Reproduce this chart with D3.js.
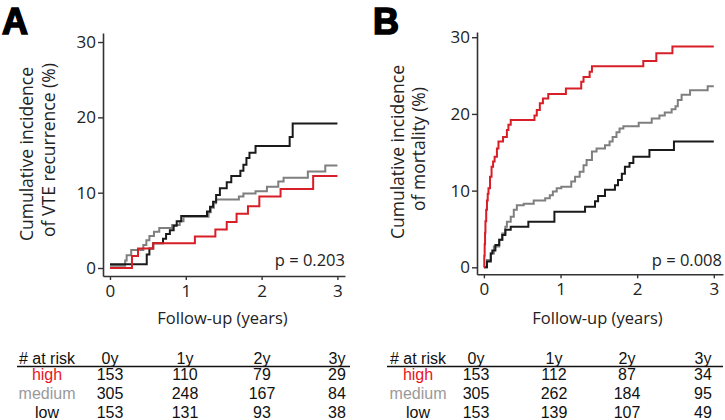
<!DOCTYPE html>
<html>
<head>
<meta charset="utf-8">
<script src="https://cdn.jsdelivr.net/npm/d3@7"></script>
<style>
  html, body { margin: 0; padding: 0; background: #fff; }
  svg { display: block; }
</style>
</head>
<body>
<svg id="chart" width="725" height="420"></svg>
<script>
// ---------------- DATA ----------------
const groups = ["high", "medium", "low"];
const xTicks = [0, 1, 2, 3];
const yTicks = [0, 10, 20, 30];
const followEnd = 3.0;

// Panel A: VTE recurrence (%)
const vteHighT = [0, 0.29, 0.37, 0.57, 1.12, 1.39, 1.54, 1.67, 1.82, 1.97, 2.25, 2.68];
const vteHighV = [0, 1.6, 2.6, 3.3, 4.2, 5.1, 6.1, 7.2, 8.2, 9.5, 10.5, 12.2];
const vteMedT = [0, 0.20, 0.22, 0.28, 0.44, 0.48, 0.52, 0.58, 0.65, 0.82, 0.92, 0.97, 1.30, 1.33, 1.37, 1.40, 1.70, 1.76, 1.92, 2.07, 2.22, 2.29, 2.61, 2.84];
const vteMedV = [0.3, 1.0, 1.7, 2.4, 3.05, 3.7, 4.25, 4.8, 5.3, 5.7, 6.2, 6.8, 7.4, 8.0, 8.6, 9.1, 9.5, 9.9, 10.2, 10.8, 11.5, 12.0, 12.8, 13.6];
const vteLowT = [0, 0.485, 0.52, 0.57, 0.70, 0.74, 0.79, 0.84, 0.88, 0.94, 1.28, 1.32, 1.36, 1.40, 1.45, 1.54, 1.60, 1.72, 1.76, 1.80, 1.84, 1.92, 2.37, 2.41];
const vteLowV = [0.5, 1.8, 2.6, 3.3, 3.9, 4.5, 5.0, 5.6, 6.2, 6.9, 7.5, 8.15, 8.8, 9.7, 10.6, 11.4, 12.2, 12.9, 13.7, 14.6, 15.3, 16.2, 17.4, 19.2];

// Panel B: mortality (%)
const mortHighT = [0, 0.005, 0.01, 0.015, 0.02, 0.03, 0.04, 0.05, 0.06, 0.08, 0.10, 0.12, 0.14, 0.17, 0.19, 0.25, 0.30, 0.32, 0.35, 0.66, 0.69, 0.73, 0.77, 0.84, 1.07, 1.27, 1.30, 1.38, 1.41, 2.08, 2.25, 2.46];
const mortHighV = [0, 1.5, 3, 4.5, 6, 7.5, 8.7, 9.6, 10.3, 11.8, 13.1, 13.8, 14.4, 15.5, 16.4, 17.0, 17.9, 18.6, 19.2, 19.8, 20.5, 21.4, 22.0, 22.6, 23.3, 24.2, 24.8, 25.5, 26.2, 26.9, 27.9, 28.8];
const mortMedT = [0, 0.04, 0.09, 0.13, 0.20, 0.24, 0.28, 0.30, 0.35, 0.39, 0.43, 0.52, 0.65, 0.80, 0.86, 0.90, 0.95, 1.01, 1.14, 1.19, 1.25, 1.30, 1.34, 1.41, 1.47, 1.58, 1.64, 1.68, 1.73, 1.77, 1.82, 2.02, 2.19, 2.29, 2.36, 2.45, 2.50, 2.53, 2.58, 2.69, 2.92];
const mortMedV = [0, 0.95, 1.8, 2.7, 3.6, 4.4, 5.3, 5.95, 6.6, 7.5, 8.1, 8.3, 8.7, 9.0, 9.4, 9.9, 10.3, 10.5, 11.2, 11.8, 12.45, 13.3, 14.0, 15.1, 15.5, 15.9, 16.4, 17.0, 17.6, 18.1, 18.4, 18.85, 19.4, 19.8, 20.2, 20.6, 21.0, 21.8, 22.5, 23.1, 23.6];
const mortLowT = [0, 0.04, 0.09, 0.11, 0.15, 0.20, 0.24, 0.28, 0.35, 0.58, 0.92, 1.32, 1.45, 1.49, 1.58, 1.71, 1.75, 1.80, 1.84, 1.90, 1.95, 2.16, 2.48];
const mortLowV = [0, 0.75, 1.8, 2.2, 2.9, 3.6, 4.2, 4.9, 5.3, 5.95, 7.25, 7.9, 8.6, 9.3, 10.1, 10.7, 11.4, 12.2, 13.1, 13.6, 14.4, 15.3, 16.4];

// Numbers at risk
const riskCols = ["0y", "1y", "2y", "3y"];
const vteRiskHigh = [153, 110, 79, 29];
const vteRiskMed = [305, 248, 167, 84];
const vteRiskLow = [153, 131, 93, 38];
const mortRiskHigh = [153, 112, 87, 34];
const mortRiskMed = [305, 262, 184, 95];
const mortRiskLow = [153, 139, 107, 49];

const pValues = ["p = 0.203", "p = 0.008"];
const yTitlesA = ["Cumulative incidence", "of VTE recurrence (%)"];
const yTitlesB = ["Cumulative incidence", "of mortality (%)"];
const xTitle = "Follow-up (years)";

// ---------------- STYLE ----------------
const lineColors = { high: "#d81e27", medium: "#7f7f7f", low: "#1a1a1a" };
const tableColors = { high: "#e8131d", medium: "#999999", low: "#111111" };
const axisColor = "#333";
const uiFont = "'Open Sans', 'Noto Sans', sans-serif";
const tabFont = "'Liberation Sans', Arial, sans-serif";

const svg = d3.select("#chart");

function seriesPoints(T, V) {
  const pts = T.map((t, i) => ({ t, v: V[i] }));
  pts.push({ t: followEnd, v: V[V.length - 1] });
  return pts;
}

function drawPanel(cfg) {
  const g = svg.append("g");
  const x = d3.scaleLinear().domain(cfg.xDom).range(cfg.xRange);
  const y = d3.scaleLinear().domain(cfg.yDom).range(cfg.yRange);

  const ya = g.append("g")
    .attr("transform", `translate(${cfg.xRange[0]},0)`)
    .call(d3.axisLeft(y).tickValues(yTicks).tickFormat(d3.format("d")).tickSize(5).tickSizeOuter(0).tickPadding(2));
  const xa = g.append("g")
    .attr("transform", `translate(0,${cfg.yRange[0]})`)
    .call(d3.axisBottom(x).tickValues(xTicks).tickFormat(d3.format("d")).tickSize(4).tickSizeOuter(0).tickPadding(5));
  [ya, xa].forEach(a => {
    a.select(".domain").attr("stroke", axisColor).attr("stroke-width", 1.6);
    a.selectAll(".tick line").attr("stroke", axisColor).attr("stroke-width", 1.4);
    a.selectAll(".tick text").attr("fill", "#222").style("font-family", uiFont).style("font-size", "17px");
  });

  const line = d3.line().x(d => x(d.t)).y(d => y(d.v)).curve(d3.curveStepAfter);
  cfg.series.forEach(s => {
    g.append("path")
      .datum(seriesPoints(s.T, s.V))
      .attr("d", line)
      .attr("fill", "none")
      .attr("stroke", lineColors[s.group])
      .attr("stroke-width", 2)
      .attr("stroke-linejoin", "miter");
  });

  g.append("text")
    .attr("x", cfg.pX).attr("y", 266)
    .attr("text-anchor", "end")
    .style("font-family", uiFont).style("font-size", "16.5px").attr("fill", "#222")
    .text(cfg.p);

  g.append("text")
    .attr("x", cfg.xTitleX).attr("y", 324)
    .attr("text-anchor", "middle")
    .style("font-family", uiFont).style("font-size", "16.5px").attr("fill", "#222")
    .text(xTitle);

  cfg.yTitles.forEach((t, i) => {
    g.append("text")
      .attr("transform", `translate(${cfg.yTitleX[i]},${cfg.yTitleY[i]}) rotate(-90)`)
      .attr("text-anchor", "middle")
      .style("font-family", uiFont).style("font-size", "17.5px").attr("fill", "#222")
      .text(t);
  });

  g.append("text")
    .attr("x", cfg.letterX).attr("y", 33.5)
    .style("font-family", "'Liberation Sans', Arial, sans-serif")
    .style("font-size", "36px").style("font-weight", "bold")
    .attr("fill", "#000").attr("stroke", "#000").attr("stroke-width", 1.6)
    .text(cfg.letter);

  const tg = g.append("g").style("font-family", tabFont).style("font-size", "16px");
  tg.append("text").attr("x", cfg.labelX).attr("y", 364).attr("text-anchor", "middle").attr("fill", "#111").text("# at risk");
  riskCols.forEach((c, j) => {
    tg.append("text").attr("x", cfg.colX[j]).attr("y", 364).attr("text-anchor", "middle").attr("fill", "#111").text(c);
  });
  tg.append("line")
    .attr("x1", cfg.ruleX[0]).attr("x2", cfg.ruleX[1])
    .attr("y1", 366.5).attr("y2", 366.5)
    .attr("stroke", "#111").attr("stroke-width", 1.3);
  const rowY = [379.5, 398.5, 418];
  groups.forEach((grp, i) => {
    tg.append("text").attr("x", cfg.labelX).attr("y", rowY[i]).attr("text-anchor", "middle")
      .attr("fill", tableColors[grp]).text(grp);
    cfg.risk[i].forEach((n, j) => {
      tg.append("text").attr("x", cfg.colX[j]).attr("y", rowY[i]).attr("text-anchor", "middle")
        .attr("fill", "#111").text(n);
    });
  });
}

drawPanel({
  letter: "A", letterX: 2,
  xDom: [-0.092, 3.10], xRange: [103, 345],
  yDom: [-1.06, 31.2], yRange: [276, 33],
  series: [
    { group: "medium", T: vteMedT, V: vteMedV },
    { group: "low", T: vteLowT, V: vteLowV },
    { group: "high", T: vteHighT, V: vteHighV }
  ],
  p: pValues[0], pX: 345,
  xTitleX: 222.5,
  yTitles: yTitlesA, yTitleX: [33, 55], yTitleY: [154, 150],
  labelX: 47, colX: [110, 185, 262, 337], ruleX: [17, 350],
  risk: [vteRiskHigh, vteRiskMed, vteRiskLow]
});

drawPanel({
  letter: "B", letterX: 373,
  xDom: [-0.09, 3.12], xRange: [477, 723],
  yDom: [-0.91, 30.68], yRange: [274.3, 32],
  series: [
    { group: "medium", T: mortMedT, V: mortMedV },
    { group: "low", T: mortLowT, V: mortLowV },
    { group: "high", T: mortHighT, V: mortHighV }
  ],
  p: pValues[1], pX: 722,
  xTitleX: 597.5,
  yTitles: yTitlesB, yTitleX: [404, 425], yTitleY: [152, 149],
  labelX: 418, colX: [476, 554, 627, 703], ruleX: [387, 723],
  risk: [mortRiskHigh, mortRiskMed, mortRiskLow]
});
</script>
</body>
</html>
